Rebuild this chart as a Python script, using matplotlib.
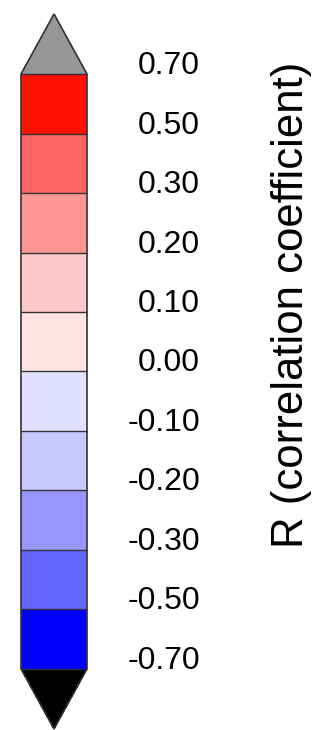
import matplotlib
matplotlib.use('Agg')
import matplotlib.pyplot as plt
import matplotlib.colors as mcolors
import matplotlib.cm as mcm

plt.rcParams['font.family'] = ['Liberation Sans', 'DejaVu Sans']

# ---- data ----
bounds = [-0.70, -0.50, -0.30, -0.20, -0.10, 0.00, 0.10, 0.20, 0.30, 0.50, 0.70]
tick_labels = ['-0.70', '-0.50', '-0.30', '-0.20', '-0.10', '0.00',
               '0.10', '0.20', '0.30', '0.50', '0.70']
seg_colors = ['#0000ff', '#6464ff', '#9696ff', '#c8c8ff', '#e1e1ff',
              '#ffe4e1', '#ffc8c8', '#ff9696', '#ff6464', '#ff1000']
under_color = '#000000'
over_color = '#969696'
label_text = 'R (correlation coefficient)'

W, H = 334, 730
fig = plt.figure(figsize=(W / 100, H / 100), dpi=100)
cax = fig.add_axes([21 / W, 1 / H, 66 / W, 715 / H])

cmap = mcolors.ListedColormap(seg_colors)
cmap.set_under(under_color)
cmap.set_over(over_color)
norm = mcolors.BoundaryNorm(bounds, cmap.N)
sm = mcm.ScalarMappable(norm=norm, cmap=cmap)

cb = fig.colorbar(sm, cax=cax, boundaries=bounds, extend='both',
                  extendfrac=0.101, spacing='uniform', ticks=bounds,
                  drawedges=True)
cb.set_ticklabels(tick_labels)
cb.outline.set_edgecolor('#333333')
cb.outline.set_linewidth(1.2)
cb.dividers.set_color('#333333')
cb.dividers.set_linewidth(1.0)

cax.tick_params(length=0, pad=81.4, labelsize=23)
plt.setp(cax.get_yticklabels(), ha='right', va='baseline')

fig.text(291 / W, 1 - 305 / H, label_text, rotation=90, ha='center',
         va='center', fontsize=31.5)

fig.savefig('out.png', dpi=100)
